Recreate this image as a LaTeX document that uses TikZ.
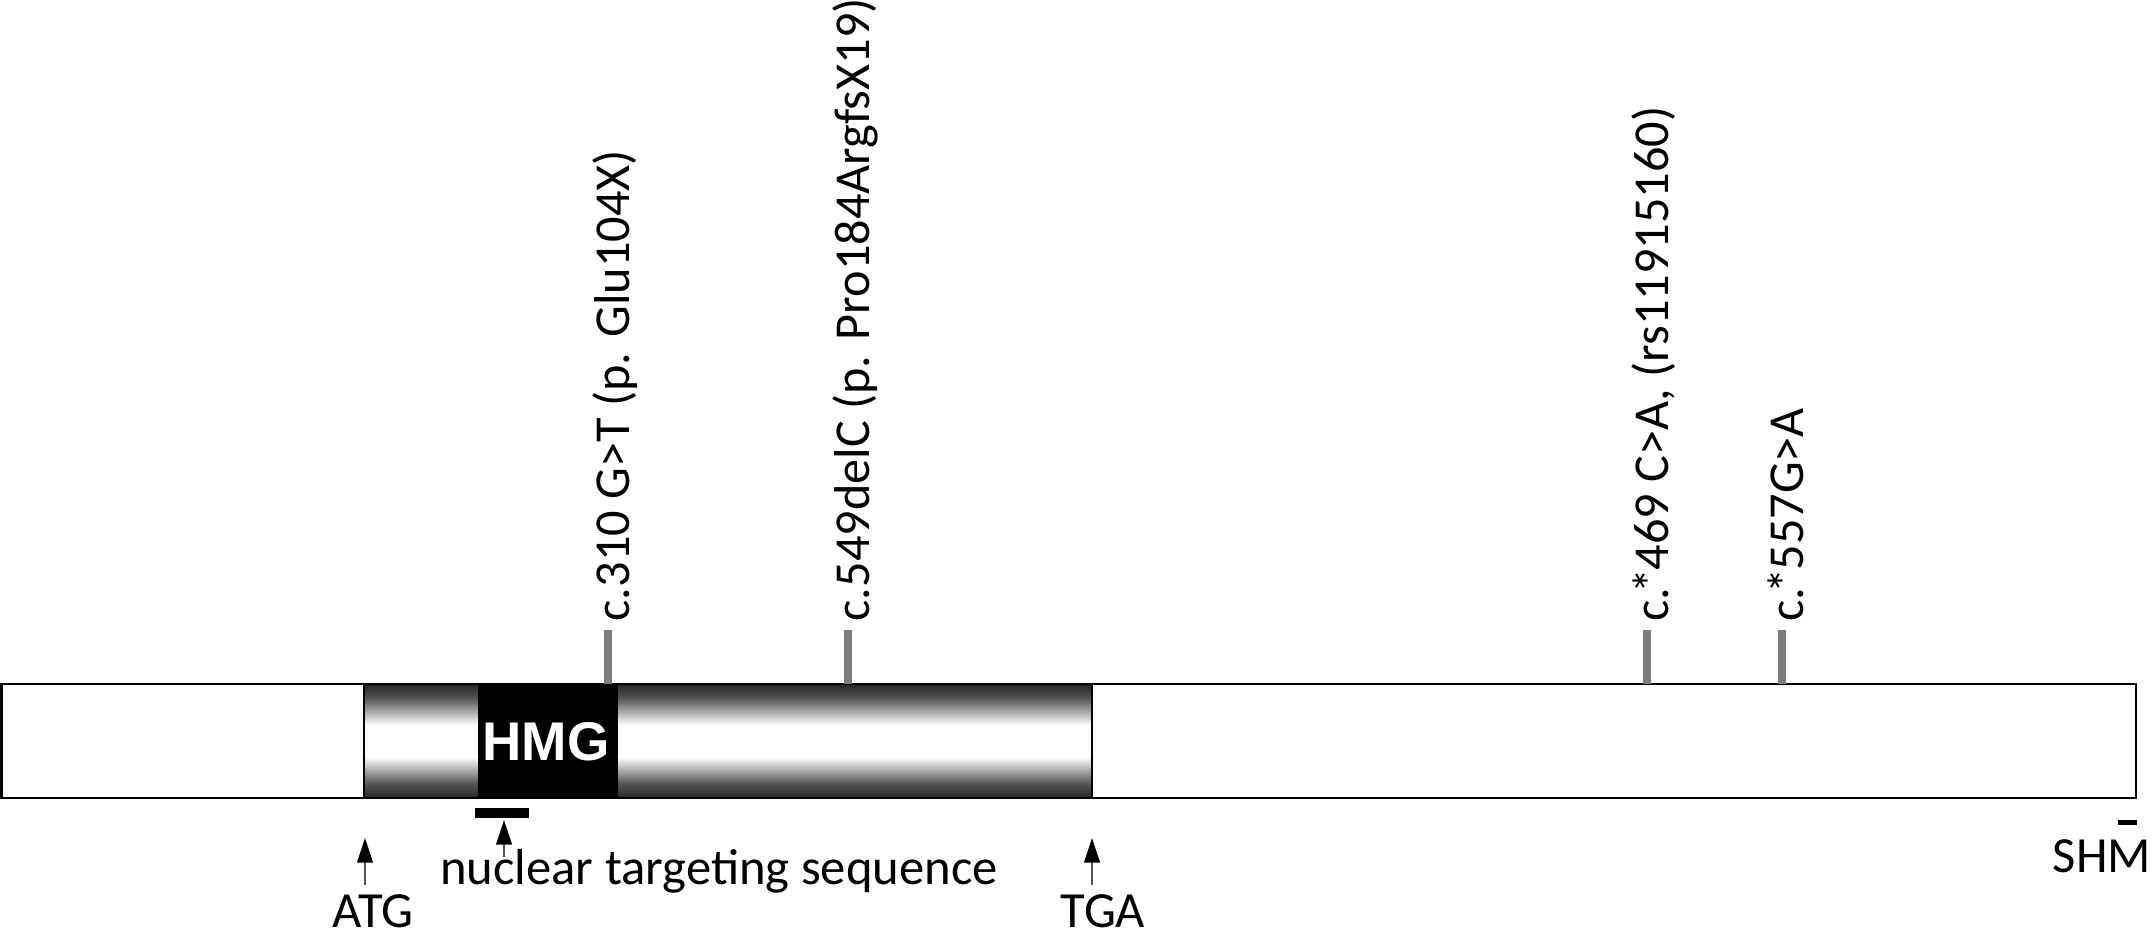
\documentclass[tikz,border=0pt]{standalone}
\usepackage{fontspec}
\setmainfont{Carlito}
\newfontfamily\hmgfont{Liberation Sans}
\usetikzlibrary{arrows.meta}
\definecolor{tickgray}{RGB}{125,125,125}
\definecolor{shaftgray}{RGB}{85,85,85}
\pgfdeclareverticalshading{tube}{100bp}{color(0bp)=(black!85); color(25bp)=(black!85); color(31bp)=(black!68); color(43bp)=(white); color(57bp)=(white); color(69bp)=(black!68); color(75bp)=(black!85); color(100bp)=(black!85)}
\begin{document}
\begin{tikzpicture}[x=0.01cm,y=-0.01cm,
  barline/.style={line width=0.7pt, draw=black},
  mutick/.style={line width=2.3pt, draw=tickgray},
  vlab/.style={font=\fontsize{14.3}{17}\selectfont, inner sep=0pt, rotate=90, anchor=base west},
  hlab/.style={font=\fontsize{14.4}{17}\selectfont, inner sep=0pt, anchor=base},
  uparrow/.style={draw=shaftgray, line width=0.75pt, -{Triangle[length=7pt,width=4.4pt,color=black]}},
  smallbar/.style={fill=black}
]
\useasboundingbox (0,0) rectangle (2154,940);

% main transcript bar
\fill[white] (1.3,684) rectangle (2136,798);
\shade[shading=tube] (364,684) rectangle (1092,798);
\fill[black] (478,684) rectangle (618,798);
\node[text=white, font=\hmgfont\bfseries\fontsize{15.5}{18}\selectfont, inner sep=0pt] (hmg) at (546,742) {HMG};
\draw[barline] (1.3,684) rectangle (2136,798);
\draw[barline] (364,684) -- (364,798);
\draw[barline] (1092,684) -- (1092,798);

% mutation ticks
\coordinate (b1) at (608,684); \coordinate (t1) at (608,630);
\coordinate (b2) at (848,684); \coordinate (t2) at (848,630);
\coordinate (b3) at (1647,684); \coordinate (t3) at (1647,630);
\coordinate (b4) at (1782,684); \coordinate (t4) at (1782,630);
\draw[mutick] (b1) -- (t1);
\draw[mutick] (b2) -- (t2);
\draw[mutick] (b3) -- (t3);
\draw[mutick] (b4) -- (t4);

% mutation labels
\node[vlab] (m1) at (629,622) {c.310 G>T (p. Glu104X)};
\node[vlab] (m2) at (869,622) {c.549delC (p. Pro184ArgfsX19)};
\node[vlab] (m3) at (1668,622) {c.\kern-0.12em*\kern-0.04em469 C>A, (rs11915160)};
\node[vlab] (m4) at (1803,622) {c.\kern-0.12em*\kern-0.04em557G>A};

% nuclear targeting sequence bar and SHM bar
\fill[smallbar] (475,808) rectangle (529,818);
\fill[smallbar] (2118,820) rectangle (2137,825);

% arrows
\coordinate (atgtip) at (365,838); \coordinate (atgtail) at (365,885);
\coordinate (ntstip) at (504,820); \coordinate (ntstail) at (504,857);
\coordinate (tgatip) at (1092,838); \coordinate (tgatail) at (1092,885);
\draw[uparrow] (atgtail) -- (atgtip);
\draw[uparrow] (ntstail) -- (ntstip);
\draw[uparrow] (tgatail) -- (tgatip);

% bottom labels
\node[hlab] (atg) at (373,927) {ATG};
\node[hlab] (nts) at (719,884) {nuclear targeting sequence};
\node[hlab] (tga) at (1103,927) {TGA};
\node[hlab] (shm) at (2102,872) {SHM};
\end{tikzpicture}
\end{document}
